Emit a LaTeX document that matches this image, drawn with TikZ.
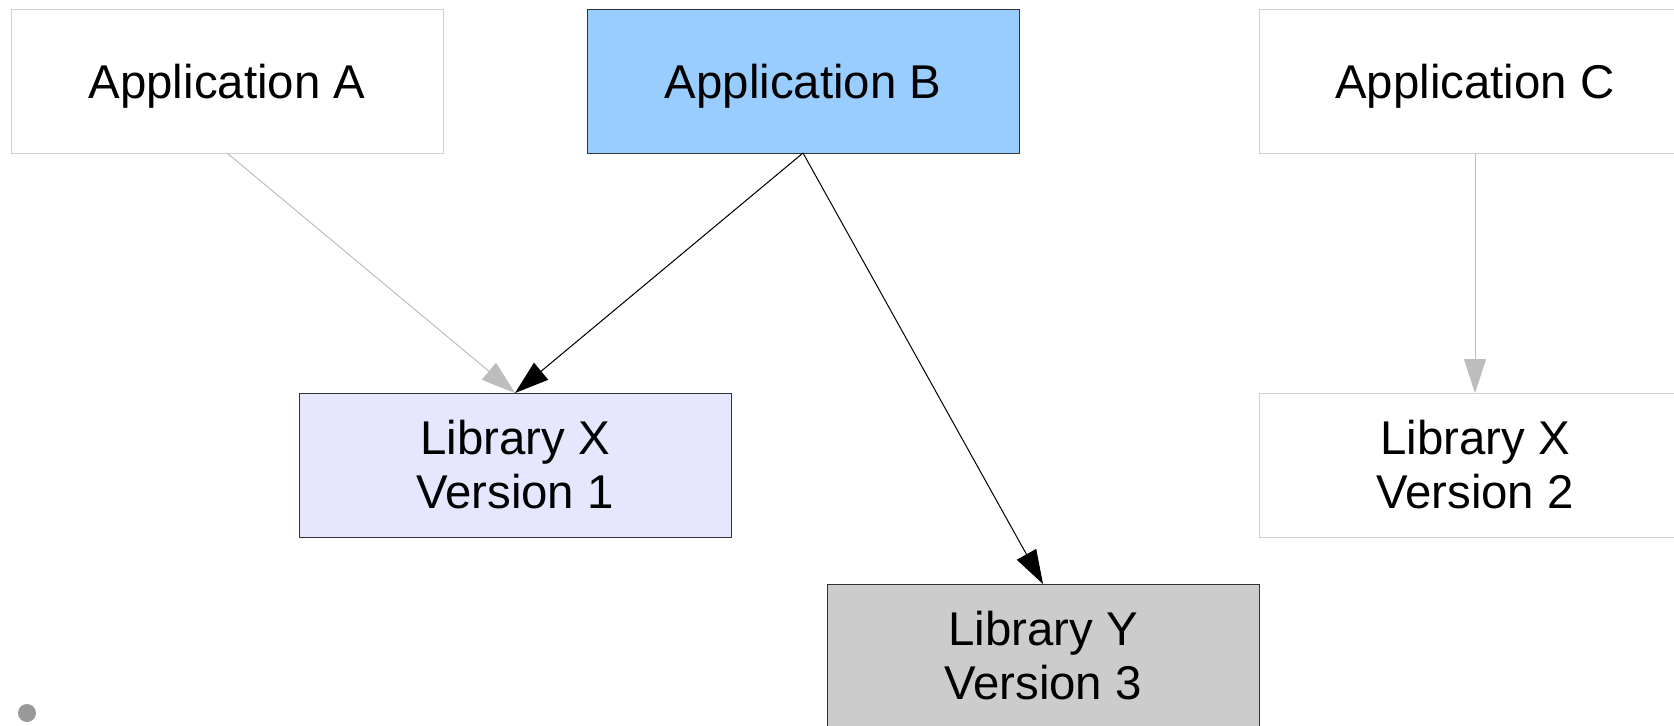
\documentclass[tikz,border=0pt]{standalone}
\usepackage{fontspec}
\setmainfont{Liberation Sans}
\usetikzlibrary{arrows.meta}
\definecolor{appb}{HTML}{99CCFF}
\definecolor{libx}{HTML}{E6E6FF}
\definecolor{liby}{HTML}{CCCCCC}
\definecolor{darkline}{HTML}{333333}
\definecolor{lightline}{HTML}{D0D0D0}
\definecolor{greyarrow}{HTML}{BDBDBD}
\definecolor{dotgrey}{HTML}{999999}
\tikzset{
  box/.style={rectangle, minimum width=216pt, minimum height=72pt, inner sep=0pt, outer sep=0pt,
    align=center, line width=0.5pt, font=\fontsize{23.7}{27}\selectfont},
  onel/.style={text depth=0pt},
  lightbox/.style={box, draw=lightline, fill=white},
  darkbox/.style={box, draw=darkline},
  darkarrow/.style={draw=black, line width=0.5pt, -{Triangle[length=17pt,width=11pt]}},
  lightarrow/.style={draw=greyarrow, line width=0.5pt, -{Triangle[length=17pt,width=11pt]}, color=greyarrow},
}
\begin{document}
\begin{tikzpicture}[x=0.5pt,y=-0.5pt]
\useasboundingbox (0,0) rectangle (1674,725);
\clip (0,0) rectangle (1674,725);
\fill[white] (0,0) rectangle (1674,725);
\node[lightbox, onel] (appa) at (227,81) {Application A};
\node[darkbox, onel, fill=appb] (appb) at (803,81) {Application B};
\node[lightbox, onel] (appc) at (1475,81) {Application C};
\node[darkbox, fill=libx] (libx1) at (515,465) {Library X\\Version 1};
\node[lightbox] (libx2) at (1475,465) {Library X\\Version 2};
\node[darkbox, fill=liby] (liby) at (1043,656) {Library Y\\Version 3};
\draw[lightarrow] (appa.south) -- (libx1.north);
\draw[darkarrow] (appb.south) -- (libx1.north);
\draw[darkarrow] (appb.south) -- (liby.north);
\draw[lightarrow] (appc.south) -- (libx2.north);
\node[circle, fill=dotgrey, minimum size=9pt, inner sep=0pt] (dot) at (27,713) {};
\end{tikzpicture}
\end{document}
